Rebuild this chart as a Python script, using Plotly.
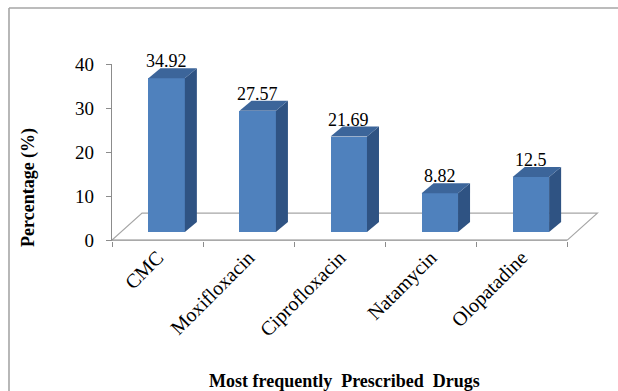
import plotly.graph_objects as go

# Data
drugs = ["CMC", "Moxifloxacin", "Ciprofloxacin", "Natamycin", "Olopatadine"]
percent = [34.92, 27.57, 21.69, 8.82, 12.5]
y_ticks = [0, 10, 20, 30, 40]

# Figure / plot-area geometry (pixels)
W, H = 618, 391
ML, MR, MT, MB = 112, 17, 64, 150
PW, PH = W - ML - MR, H - MT - MB
X_RANGE = [-0.5, 4.87]
Y_RANGE = [-0.2, 40]

# Pseudo-3D depth, in axis units
BAR_W, BAR_OFF = 0.4, -0.1          # front face width / offset from category centre
BASE = 1.82                          # bars stand a little behind the front edge
DX_BAR, DY_BAR = 0.132, 2.27         # depth of each column
DX_FLOOR, DY_FLOOR = 0.33, 6.14      # depth of the floor

FRONT = "#4F81BD"
TOP = "#3C659A"
SIDE = "#2F5383"
GRID = "#A6A6A6"
AXIS = "#8C8C8C"
FONT = "Liberation Serif"


def px_to_paper(px, py):
    return (px - ML) / PW, (H - MB - py) / PH


fig = go.Figure()

shapes = []
# floor outline (back and side edges)
fx0, fx1 = -0.5, len(drugs) - 0.5
shapes.append(dict(
    type="path", xref="x", yref="y", layer="below",
    path=(f"M {fx0},0 L {fx0 + DX_FLOOR},{DY_FLOOR} "
          f"L {fx1 + DX_FLOOR},{DY_FLOOR} L {fx1},0"),
    line=dict(color=GRID, width=1.2),
))
# front edge of the floor (category axis line)
shapes.append(dict(type="line", xref="x", yref="y", x0=fx0, x1=fx1, y0=0, y1=0,
                   line=dict(color=AXIS, width=1.2), layer="below"))

# side and top faces of each column
for i, v in enumerate(percent):
    xl = i + BAR_OFF
    xr = xl + BAR_W
    yb = BASE
    yt = BASE + v
    shapes.append(dict(
        type="path", xref="x", yref="y", layer="above",
        path=(f"M {xr},{yb} L {xr + DX_BAR},{yb + DY_BAR} "
              f"L {xr + DX_BAR},{yt + DY_BAR} L {xr},{yt} Z"),
        fillcolor=SIDE, line=dict(width=0),
    ))
    shapes.append(dict(
        type="path", xref="x", yref="y", layer="above",
        path=(f"M {xl},{yt} L {xr},{yt} L {xr + DX_BAR},{yt + DY_BAR} "
              f"L {xl + DX_BAR},{yt + DY_BAR} Z"),
        fillcolor=TOP, line=dict(width=0),
    ))

# outer chart border: top and left edges
bx0, by0 = px_to_paper(9, 8)
bx1, by1 = px_to_paper(640, 420)
shapes.append(dict(type="line", xref="paper", yref="paper",
                   x0=bx0, y0=by0, x1=bx1, y1=by0,
                   line=dict(color=GRID, width=1.6), layer="below"))
shapes.append(dict(type="line", xref="paper", yref="paper",
                   x0=bx0, y0=by0, x1=bx0, y1=by1,
                   line=dict(color=GRID, width=1.6), layer="below"))

# front faces of the columns
fig.add_trace(go.Bar(
    x=drugs, y=percent, base=BASE, width=BAR_W, offset=BAR_OFF,
    marker=dict(color=FRONT, line=dict(width=0)),
    hoverinfo="skip", showlegend=False,
))

annotations = []
for i, (d, v) in enumerate(zip(drugs, percent)):
    annotations.append(dict(
        x=i + BAR_OFF + BAR_W / 2, y=BASE + v + DY_BAR, xref="x", yref="y",
        text=f"{v:g}", showarrow=False, yanchor="bottom", yshift=-5,
        font=dict(family=FONT, size=18, color="black"),
    ))

tx, ty = px_to_paper(28, 188)
annotations.append(dict(
    x=tx, y=ty, xref="paper", yref="paper", text="<b>Percentage (%)</b>",
    textangle=-90, showarrow=False, xanchor="center", yanchor="middle",
    font=dict(family=FONT, size=18, color="black"),
))
tx, ty = px_to_paper(344, 381)
annotations.append(dict(
    x=tx, y=ty, xref="paper", yref="paper",
    text="<b>Most frequently  Prescribed  Drugs</b>", showarrow=False,
    xanchor="center", yanchor="middle",
    font=dict(family=FONT, size=18, color="black"),
))

fig.update_layout(
    width=W, height=H,
    margin=dict(l=ML, r=MR, t=MT, b=MB),
    paper_bgcolor="white", plot_bgcolor="rgba(0,0,0,0)",
    bargap=0,
    shapes=shapes, annotations=annotations,
    xaxis=dict(
        type="category", range=X_RANGE, tickson="boundaries",
        ticks="outside", ticklen=5, tickcolor=AXIS, tickwidth=1,
        tickangle=-45, showgrid=False, showline=False, zeroline=False,
        tickfont=dict(family=FONT, size=20, color="black"),
    ),
    yaxis=dict(
        range=Y_RANGE, tickvals=y_ticks, ticks="outside", ticklen=5,
        tickcolor=AXIS, showline=True, linecolor=AXIS, linewidth=1.2,
        showgrid=False, zeroline=False, ticklabelstandoff=8,
        tickfont=dict(family=FONT, size=19, color="black"),
    ),
)

fig.write_html("out.html")
